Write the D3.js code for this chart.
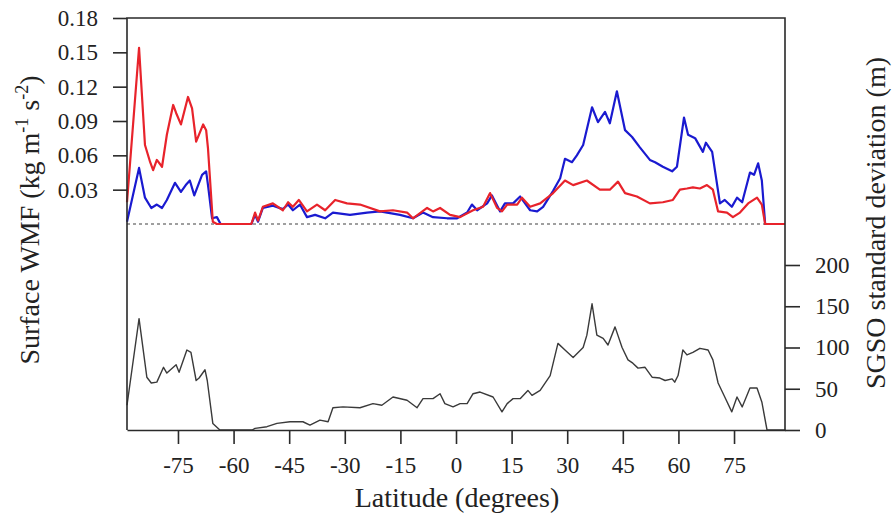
<!DOCTYPE html>
<html><head><meta charset="utf-8">
<script src="https://cdn.jsdelivr.net/npm/d3@7"></script>
</head>
<body style="margin:0;background:#fff">
<svg id="chart" width="893" height="518" style="display:block"></svg>
<script>
// ---- data ----
const latTicks = [-75, -60, -45, -30, -15, 0, 15, 30, 45, 60, 75];
const wmfTicks = [0.03, 0.06, 0.09, 0.12, 0.15, 0.18];
const sgsoTicks = [0, 50, 100, 150, 200];

const redLat = [-88.75,-85.5,-83.9,-82.5,-81.7,-80.7,-79.3,-78.0,-76.3,-75.5,-74.2,-72.3,-71.2,-70.1,-68.2,-67.4,-66.9,-65.6,-64.5,-55.2,-54.2,-53.4,-52.1,-49.4,-46.7,-45.3,-44.0,-42.4,-40.2,-37.5,-35.3,-32.6,-29.4,-25.9,-20.5,-17.0,-13.2,-11.6,-7.8,-6.2,-4.3,-1.6,1.1,4.6,7.3,9.2,11.1,12.4,13.8,16.5,17.8,20.0,22.7,26.2,29.4,31.6,35.3,38.8,41.5,43.7,45.6,48.8,52.3,55.8,58.5,60.4,62.3,63.9,65.8,67.7,69.3,70.7,73.1,74.7,76.6,78.8,81.2,82.5,83.4,88.75];
const redWMF = [0.019,0.154,0.069,0.054,0.047,0.056,0.050,0.078,0.104,0.097,0.087,0.111,0.101,0.072,0.087,0.082,0.066,0.002,0,0,0.010,0.003,0.015,0.018,0.012,0.019,0.015,0.021,0.011,0.017,0.012,0.021,0.018,0.017,0.011,0.012,0.010,0.005,0.014,0.011,0.014,0.008,0.006,0.012,0.015,0.027,0.014,0.011,0.017,0.017,0.023,0.015,0.018,0.027,0.038,0.034,0.038,0.030,0.030,0.037,0.027,0.024,0.018,0.019,0.021,0.030,0.031,0.032,0.031,0.034,0.030,0.011,0.010,0.006,0.010,0.018,0.023,0.017,0,0];

const blueLat = [-88.75,-85.5,-83.9,-82.2,-80.7,-79.3,-78.0,-75.8,-74.2,-72.9,-71.8,-70.6,-68.5,-67.4,-66.9,-65.8,-64.5,-63.5,-55.2,-54.2,-53.4,-52.1,-49.4,-46.7,-45.3,-44.0,-42.1,-40.2,-38.0,-35.3,-33.2,-28.6,-24.0,-20.5,-15.1,-11.6,-8.9,-6.2,-2.4,0.3,3.0,4.3,5.7,8.4,9.7,11.9,13.2,15.4,17.3,20.0,21.9,23.5,26.2,28.1,29.4,31.3,32.6,34.3,36.7,38.3,40.2,41.5,43.4,45.6,47.5,49.6,52.3,53.7,55.8,58.3,59.6,61.5,62.6,64.5,66.6,67.4,69.1,71.2,72.5,74.4,75.8,77.2,79.3,80.4,81.5,82.5,83.4,88.75];
const blueWMF = [0.002,0.049,0.023,0.014,0.017,0.014,0.021,0.036,0.028,0.034,0.038,0.025,0.043,0.046,0.034,0.005,0.006,0,0,0.008,0.002,0.014,0.016,0.013,0.017,0.012,0.017,0.006,0.008,0.005,0.010,0.008,0.010,0.011,0.008,0.005,0.010,0.006,0.005,0.005,0.010,0.017,0.012,0.018,0.025,0.011,0.018,0.018,0.024,0.012,0.011,0.015,0.029,0.040,0.057,0.054,0.060,0.069,0.102,0.089,0.098,0.088,0.116,0.082,0.076,0.067,0.056,0.054,0.050,0.046,0.050,0.093,0.078,0.075,0.063,0.071,0.063,0.018,0.021,0.015,0.023,0.019,0.045,0.043,0.053,0.038,0,0];

const sgsoLat = [-88.75,-85.5,-83.4,-82.2,-80.7,-78.9,-78.0,-75.5,-74.7,-72.6,-71.5,-70.1,-69.3,-67.7,-67.1,-65.6,-63.7,-55.0,-54.2,-51.0,-48.3,-44.8,-41.3,-39.4,-36.7,-34.5,-33.2,-30.5,-25.9,-22.4,-20.0,-17.0,-13.2,-10.5,-8.9,-6.2,-4.3,-3.0,-0.8,1.1,3.0,4.6,6.5,10.0,12.4,13.8,15.4,17.3,19.4,20.5,22.7,25.4,27.5,29.4,31.6,34.3,35.3,36.7,38.0,39.7,41.0,42.9,44.8,46.4,47.7,49.1,51.0,52.9,55.0,56.4,58.3,59.0,59.9,61.2,62.3,63.9,65.8,68.0,69.3,70.7,72.5,74.4,75.8,77.2,79.3,81.2,82.5,83.9,88.75];
const sgsoStd = [30,135,64,57,58,76,69,79,70,97,94,60,63,73,60,8,0,0,2,4,8,10,10,6,12,10,27,28,27,32,30,40,36,27,38,38,44,32,28,32,32,44,46,40,22,32,38,38,48,42,48,66,105,97,88,100,115,153,115,111,103,125,100,85,81,75,76,64,63,60,62,58,66,97,91,94,99,97,85,57,40,22,40,28,51,51,34,0,0];

// ---- layout ----
const FONT = "Liberation Serif";
const L = 127, R = 785, T = 18, B = 430, Z = 224;
const svg = d3.select("#chart");

const x = d3.scaleLinear().domain([-88.75, 88.75]).range([L, R]);
const yW = d3.scaleLinear().domain([0, 0.18]).range([Z, T]);
const yS = d3.scaleLinear().domain([0, 200]).range([B, 265]);

// zero dotted line
svg.append("line").attr("x1", L).attr("x2", R).attr("y1", yW(0)).attr("y2", yW(0))
  .attr("stroke", "#808080").attr("stroke-width", 1.7).attr("stroke-dasharray", "3,3");

const mk = (lats, vals, ys) => d3.line().x((d, i) => x(lats[i])).y((d, i) => ys(vals[i]))(vals);

svg.append("path").attr("d", mk(sgsoLat, sgsoStd, yS)).attr("fill", "none")
  .attr("stroke", "#3a3a3a").attr("stroke-width", 1.4).attr("stroke-linejoin", "round");
svg.append("path").attr("d", mk(blueLat, blueWMF, yW)).attr("fill", "none")
  .attr("stroke", "#1a1ad0").attr("stroke-width", 2.2).attr("stroke-linejoin", "round");
svg.append("path").attr("d", mk(redLat, redWMF, yW)).attr("fill", "none")
  .attr("stroke", "#e8232b").attr("stroke-width", 2.2).attr("stroke-linejoin", "round");

// frame
const frameColor = "#2a2a2a";
svg.append("path").attr("d", `M${L},${B}V${T}H${R}V${B}`).attr("fill", "none")
  .attr("stroke", frameColor).attr("stroke-width", 1.6);

// axes
function styleAxis(g, size) {
  g.attr("font-family", FONT).attr("font-size", size);
  g.select(".domain").attr("stroke", frameColor).attr("stroke-width", 1.6);
  g.selectAll(".tick line").attr("stroke", frameColor).attr("stroke-width", 1.6);
  g.selectAll(".tick text").attr("font-family", FONT).attr("font-size", size).attr("fill", "#222")
    .style("font-family", FONT, "important");
}
const gx = svg.append("g").attr("transform", `translate(0,${B})`)
  .call(d3.axisBottom(x).tickValues(latTicks).tickSize(14).tickPadding(13).tickSizeOuter(0)
    .tickFormat(d => d < 0 ? "-" + Math.abs(d) : String(d)));
styleAxis(gx, 23);

const gy = svg.append("g").attr("transform", `translate(${L},0)`)
  .call(d3.axisLeft(yW).tickValues(wmfTicks).tickSize(14).tickPadding(15).tickFormat(d3.format(".2f")));
gy.select(".domain").remove();
styleAxis(gy, 23);

const gr = svg.append("g").attr("transform", `translate(${R},0)`)
  .call(d3.axisRight(yS).tickValues(sgsoTicks).tickSize(15).tickPadding(15).tickFormat(d3.format("d")));
gr.select(".domain").remove();
styleAxis(gr, 23);

// titles
svg.append("text").attr("x", 457).attr("y", 507).attr("text-anchor", "middle")
  .attr("font-family", FONT).style("font-family", FONT, "important")
  .attr("fill", "#222").attr("font-size", 28).text("Latitude (degrees)");

const lt = svg.append("text").attr("transform", "translate(39,220) rotate(-90)")
  .attr("text-anchor", "middle").attr("font-family", FONT).style("font-family", FONT, "important")
  .attr("fill", "#222").attr("font-size", 28);
lt.append("tspan").text("Surface WMF (kg m");
lt.append("tspan").attr("dy", -11).attr("font-size", 18).text("-1");
lt.append("tspan").attr("dy", 11).text(" s");
lt.append("tspan").attr("dy", -11).attr("font-size", 18).text("-2");
lt.append("tspan").attr("dy", 11).text(")");

svg.append("text").attr("transform", "translate(885,223) rotate(-90)")
  .attr("text-anchor", "middle").attr("font-family", FONT).style("font-family", FONT, "important")
  .attr("fill", "#222").attr("font-size", 28)
  .text("SGSO standard deviation (m)");
</script>
</body></html>
